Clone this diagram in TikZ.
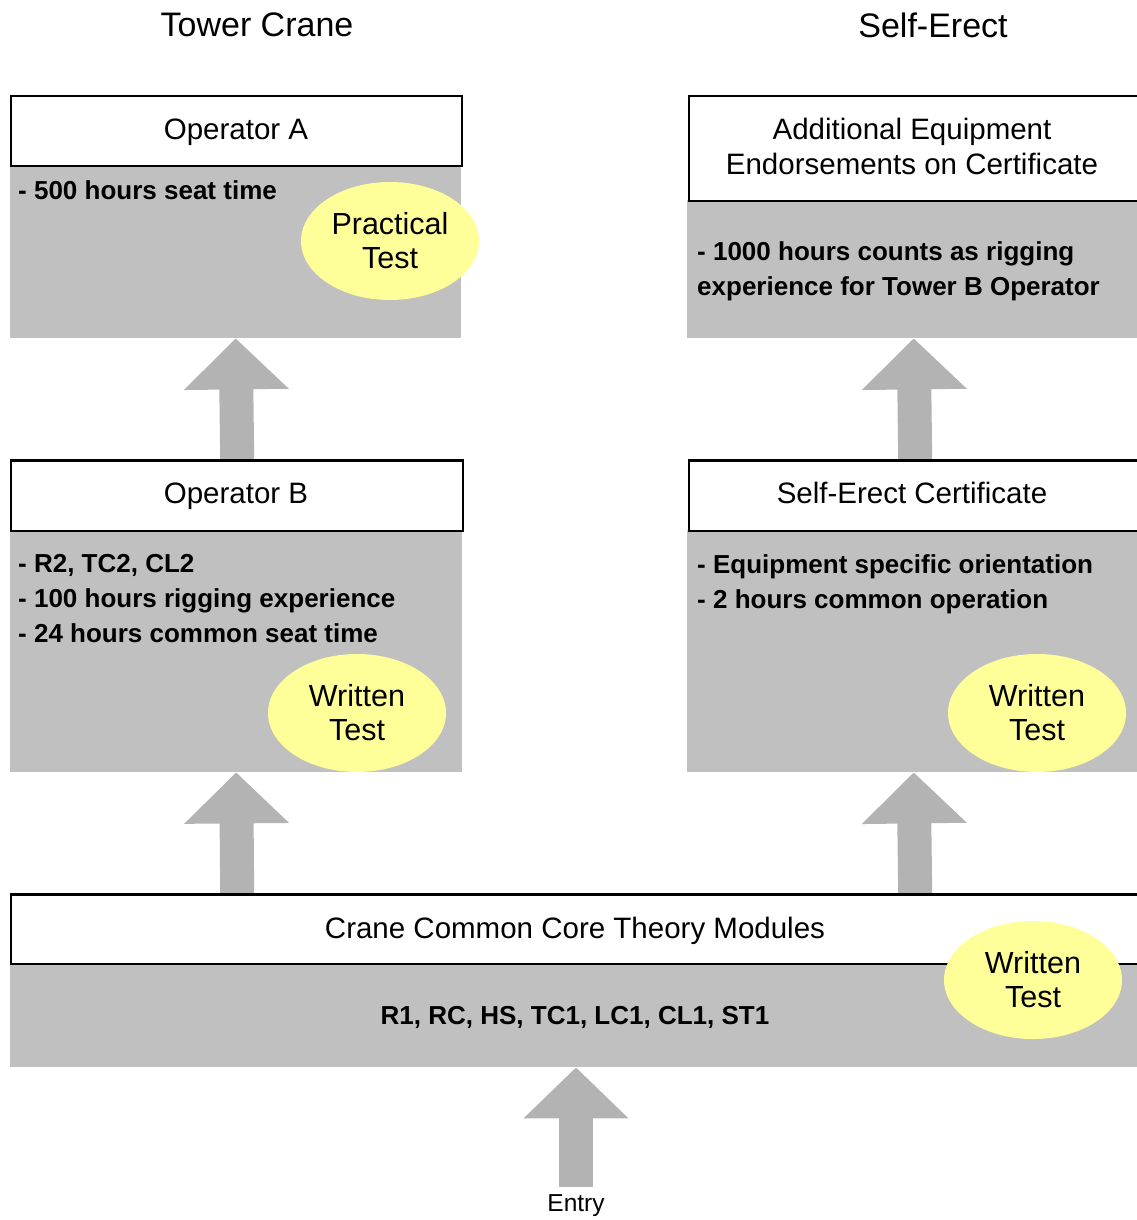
\documentclass[tikz,border=0pt]{standalone}
\usepackage{fontspec}
\setmainfont{Liberation Sans}
\usetikzlibrary{shapes.geometric,arrows.meta}
\definecolor{boxgray}{HTML}{C0C0C0}
\definecolor{arrgray}{HTML}{B3B3B3}
\definecolor{testyellow}{HTML}{FFFF99}
\tikzset{
  hdr/.style={draw=black, line width=2.4pt, fill=white, anchor=north west, inner sep=0pt},
  hdrtext/.style={inner sep=0pt, align=center, font=\fontsize{29.5}{35}\selectfont},
  bodybox/.style={fill=boxgray, anchor=north west, inner sep=0pt, draw=none},
  btext/.style={anchor=west, align=left, inner sep=0pt, font=\bfseries\fontsize{26}{35}\selectfont},
  testov/.style={ellipse, fill=testyellow, minimum width=178pt, minimum height=118pt, inner sep=0pt, align=center, font=\fontsize{30.5}{34}\selectfont},
  bigarrow/.style={draw=arrgray, line width=34pt, -{Triangle[length=51pt,width=102pt]}},
  coltitle/.style={font=\fontsize{34}{40}\selectfont, inner sep=0pt}
}
\begin{document}
\begin{tikzpicture}[x=1pt,y=-1pt]
\useasboundingbox (0,0) rectangle (1137,1220);
\clip (0,0) rectangle (1137,1220);
% titles
\node[coltitle] (t1) at (257,25) {Tower Crane};
\node[coltitle] (t2) at (933,25) {Self-Erect};
% bodies
\node[bodybox, minimum width=451pt, minimum height=173pt] (opAb) at (10,165) {};
\node[bodybox, minimum width=453pt, minimum height=138pt] (addEqb) at (687,200) {};
\node[bodybox, minimum width=452pt, minimum height=242pt] (opBb) at (10,530) {};
\node[bodybox, minimum width=453pt, minimum height=242pt] (seCb) at (687,530) {};
\node[bodybox, minimum width=1130pt, minimum height=104pt] (cccb) at (10,963) {};
% headers
\node[hdr, minimum width=451pt, minimum height=70pt] (opA) at (10,95) {};
\node[hdr, minimum width=452pt, minimum height=105pt] (addEq) at (688,95) {};
\node[hdr, minimum width=452pt, minimum height=70pt] (opB) at (10,460) {};
\node[hdr, minimum width=452pt, minimum height=70pt] (seC) at (688,460) {};
\node[hdr, minimum width=1130pt, minimum height=69pt] (ccc) at (10,894) {};
% arrows
\draw[bigarrow] (opB.north) -- (opAb.south);
\draw[bigarrow] (seC.north) -- (addEqb.south);
\draw[bigarrow] (ccc.north -| opB.north) -- (opBb.south);
\draw[bigarrow] (ccc.north -| seC.north) -- (seCb.south);
\node[font=\fontsize{24.5}{28}\selectfont, inner sep=0pt] (entry) at (576,1206) {Entry};
\coordinate (entryTail) at (576,1187);
\draw[bigarrow] (entryTail) -- (entryTail |- cccb.south);
% redraw header borders on top of arrow ends
\draw[line width=2.4pt] (opB.north west) -- (opB.north east);
\draw[line width=2.4pt] (seC.north west) -- (seC.north east);
\draw[line width=2.4pt] (ccc.north west) -- (ccc.north east);
% header texts
\node[hdrtext] (hA) at (236,132) {Operator A};
\node[hdrtext] (hAdd) at (912,146) {Additional Equipment\\Endorsements on Certificate};
\node[hdrtext] (hB) at (236,496) {Operator B};
\node[hdrtext] (hSE) at (912,493) {Self-Erect Certificate};
\node[hdrtext] (hC) at (575,931) {Crane Common Core Theory Modules};
% body texts
\node[btext] (tA) at (18,190) {- 500 hours seat time};
\node[btext] (tAdd) at (697,271.5) {- 1000 hours counts as rigging\\experience for Tower B Operator};
\node[btext] (tB) at (18,599) {- R2, TC2, CL2\\- 100 hours rigging experience\\- 24 hours common seat time};
\node[btext] (tSE) at (697,584.5) {- Equipment specific orientation\\- 2 hours common operation};
\node[btext, anchor=center] (tC) at (575,1017) {R1, RC, HS, TC1, LC1, CL1, ST1};
% test ovals
\node[testov] (pA) at (390,241) {Practical\\Test};
\node[testov] (wB) at (357,713) {Written\\Test};
\node[testov] (wSE) at (1037,713) {Written\\Test};
\node[testov] (wC) at (1033,980) {Written\\Test};
\end{tikzpicture}
\end{document}
